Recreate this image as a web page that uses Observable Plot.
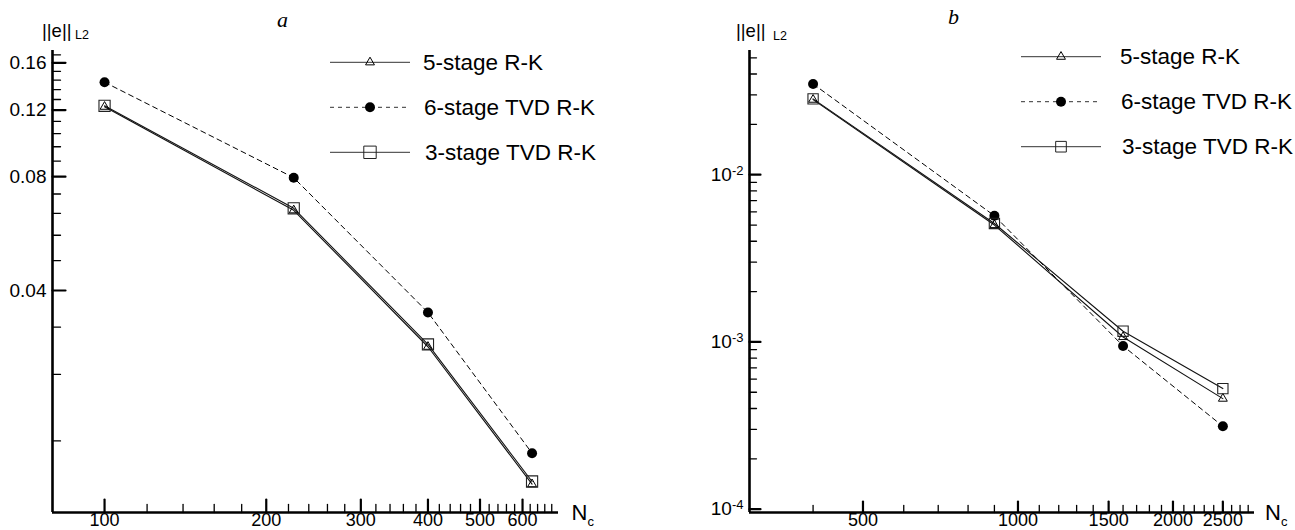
<!DOCTYPE html>
<html><head><meta charset="utf-8">
<script src="https://cdn.jsdelivr.net/npm/d3@7"></script>
<script src="https://cdn.jsdelivr.net/npm/@observablehq/plot@0.6"></script>
<style>
html,body{margin:0;padding:0;background:#fff;}
#wrap{position:relative;width:1295px;height:530px;overflow:hidden;font-family:"Liberation Sans",Arial,sans-serif;}
#wrap svg{position:absolute;top:0;}
</style></head><body><div id="wrap"></div>
<script>
// ---- data ----
const seriesNames = ["5-stage R-K", "6-stage TVD R-K", "3-stage TVD R-K"];
// panel a
const ncA   = [100, 225, 400, 625];
const rk5A  = [0.1225, 0.0652, 0.0284, 0.0123];
const tvd6A = [0.1422, 0.0795, 0.0350, 0.01485];
const tvd3A = [0.1232, 0.0660, 0.0288, 0.0125];
// panel b
const ncB   = [400, 900, 1600, 2500];
const rk5B  = [0.0281, 0.0050, 0.00107, 0.000458];
const tvd6B = [0.0349, 0.00568, 0.000946, 0.000313];
const tvd3B = [0.0284, 0.00511, 0.001159, 0.000526];
// ticks
const xTicksA = [100, 200, 300, 400, 500, 600];
const xMinorA = [120,140,160,180,220,240,260,280,320,340,360,380,420,440,460,480,520,540,560,580,620,640,660,680];
const yTicksA = [0.04, 0.08, 0.12, 0.16];
const yMinorA = [0.016,0.024,0.032,0.048,0.056,0.064,0.072,0.088,0.096,0.104,0.112,0.128,0.136,0.144,0.152,0.168];
const xTicksB = [500, 1000, 1500, 2000, 2500];
const xMinorB = [400,600,700,800,900,1100,1200,1300,1400,1600,1700,1800,1900,2100,2200,2300,2400,2600,2700,2800];
const yTicksB = [0.0001, 0.001, 0.01];
const yTickExpB = ["-4", "-3", "-2"];
const yMinorB = [2e-4,3e-4,4e-4,5e-4,6e-4,7e-4,8e-4,9e-4,2e-3,3e-3,4e-3,5e-3,6e-3,7e-3,8e-3,9e-3,2e-2,3e-2,4e-2,5e-2];
const xDomainA = [80, 700],   yDomainA = [0.01035, 0.1725];
const xDomainB = [301, 2880], yDomainB = [0.0000955, 0.0553];

const rows = (nc, vals) => nc.map((n, i) => ({nc: n, v: vals[i]}));
const tickShape = {draw(ctx, l) { ctx.moveTo(0, 0); ctx.lineTo(0, -l); }};
const FONT = '"Liberation Sans", Arial, sans-serif';

function panel(cfg) {
  const s5 = rows(cfg.nc, cfg.rk5), s6 = rows(cfg.nc, cfg.tvd6), s3 = rows(cfg.nc, cfg.tvd3);
  return Plot.plot({
    width: cfg.width, height: 530,
    marginLeft: cfg.ml, marginRight: cfg.mr, marginTop: 50, marginBottom: 18,
    x: {type: "log", domain: cfg.xDomain},
    y: {type: "log", domain: cfg.yDomain},
    style: {fontFamily: FONT, fontSize: "19px", color: "#000", background: "transparent", overflow: "visible"},
    marks: [
      Plot.vector(cfg.xMinor, {x: d => d, frameAnchor: "bottom", length: cfg.minLen, rotate: 0, anchor: "start", shape: tickShape, stroke: "#000", strokeWidth: 1.3}),
      Plot.vector(cfg.xMajor, {x: d => d, frameAnchor: "bottom", length: cfg.majLen, rotate: 0, anchor: "start", shape: tickShape, stroke: "#000", strokeWidth: 2.2}),
      Plot.vector(cfg.yMinor, {y: d => d, frameAnchor: "left", length: cfg.minLen, rotate: 90, anchor: "start", shape: tickShape, stroke: "#000", strokeWidth: 1.3}),
      Plot.vector(cfg.yMajor, {y: d => d, frameAnchor: "left", length: cfg.majLen, rotate: 90, anchor: "start", shape: tickShape, stroke: "#000", strokeWidth: 2.2}),
      Plot.ruleX([cfg.xDomain[0]], {stroke: "#000", strokeWidth: 2.6}),
      Plot.ruleY([cfg.yDomain[0]], {stroke: "#000", strokeWidth: 2.6}),
      Plot.axisX({ticks: cfg.xMajor, tickSize: 0, tickPadding: 1, tickFormat: d => String(d), label: null, fontSize: 18}),
      Plot.axisY({ticks: cfg.yMajor, tickSize: 0, tickPadding: 6, tickFormat: cfg.yFormat, label: null, fontSize: 19}),
      Plot.line(s6, {x: "nc", y: "v", stroke: "#000", strokeWidth: 1, strokeDasharray: "5,4"}),
      Plot.line(s5, {x: "nc", y: "v", stroke: "#111", strokeWidth: 1.1}),
      Plot.line(s3, {x: "nc", y: "v", stroke: "#111", strokeWidth: 1.1}),
      Plot.dot(s6, {x: "nc", y: "v", symbol: "circle", r: 5, fill: "#000", stroke: "none"}),
      Plot.dot(s5, {x: "nc", y: "v", symbol: "triangle", r: 3.3, fill: "none", stroke: "#000", strokeWidth: 1}),
      Plot.dot(s3, {x: "nc", y: "v", symbol: "square", r: cfg.sqR, fill: "none", stroke: "#222", strokeWidth: 1.1})
    ]
  });
}

const wrap = document.getElementById("wrap");
const pa = panel({width: 640, ml: 52, mr: 82, nc: ncA, rk5: rk5A, tvd6: tvd6A, tvd3: tvd3A,
  xDomain: xDomainA, yDomain: yDomainA, xMajor: xTicksA, xMinor: xMinorA, yMajor: yTicksA, yMinor: yMinorA,
  yFormat: d => d.toFixed(2), majLen: 13, minLen: 8, sqR: 6.3});
pa.style.left = "0px";
wrap.appendChild(pa);
const pb = panel({width: 648, ml: 102, mr: 41, nc: ncB, rk5: rk5B, tvd6: tvd6B, tvd3: tvd3B,
  xDomain: xDomainB, yDomain: yDomainB, xMajor: xTicksB, xMinor: xMinorB, yMajor: yTicksB, yMinor: yMinorB,
  yFormat: d => "10^" + yTickExpB[yTicksB.indexOf(d)], majLen: 11, minLen: 7, sqR: 5.8});
pb.style.left = "647px";
wrap.appendChild(pb);

// render the power-of-ten labels with a real superscript
d3.select(pb).selectAll('g[aria-label="y-axis tick label"] text').each(function() {
  const t = d3.select(this), s = t.text();
  if (!s.startsWith("10^")) return;
  const exp = s.slice(3);
  t.text("10");
  t.append("tspan").attr("dy", "-0.45em").attr("font-size", 13).text(exp);
});

// ---- overlay: axis titles, panel letters, legends ----
const ov = d3.select(wrap).append("svg").attr("width", 1295).attr("height", 530)
  .style("left", "0px").style("pointer-events", "none");

function ylab(x, y, subx, suby) {
  ov.append("text").attr("x", x).attr("y", y).attr("font-family", FONT).attr("font-size", 18.5).text("||e||");
  ov.append("text").attr("x", subx).attr("y", suby).attr("font-family", FONT).attr("font-size", 12.5).text("L2");
}
ylab(42, 36.5, 75, 38.5);
ylab(736, 37, 773, 40);

function nc(x, y) {
  ov.append("text").attr("x", x).attr("y", y).attr("font-family", FONT).attr("font-size", 22).text("N");
  ov.append("text").attr("x", x + 16).attr("y", y + 5.5).attr("font-family", FONT).attr("font-size", 13).text("c");
}
nc(571.5, 520);
nc(1265, 520);

ov.append("text").attr("x", 277).attr("y", 27).attr("font-family", '"Liberation Serif", serif')
  .attr("font-style", "italic").attr("font-size", 22).text("a");
ov.append("text").attr("x", 948).attr("y", 24).attr("font-family", '"Liberation Serif", serif')
  .attr("font-style", "italic").attr("font-size", 22).text("b");

function legend(x0, x1, tx, ys, sq) {
  const mx = (x0 + x1) / 2;
  const styles = [
    {dash: null, sym: d3.symbolTriangle, size: Math.PI * 3.3 * 3.3, fill: "none", stroke: "#000"},
    {dash: "4,4", sym: d3.symbolCircle, size: Math.PI * 5 * 5, fill: "#000", stroke: "none"},
    {dash: null, sym: d3.symbolSquare, size: Math.PI * sq * sq, fill: "none", stroke: "#222"}
  ];
  seriesNames.forEach((name, i) => {
    const y = ys[i], st = styles[i];
    ov.append("line").attr("x1", x0).attr("x2", x1).attr("y1", y).attr("y2", y)
      .attr("stroke", "#333").attr("stroke-width", 1).attr("stroke-dasharray", st.dash);
    ov.append("path").attr("transform", `translate(${mx},${y})`)
      .attr("d", d3.symbol(st.sym, st.size)()).attr("fill", st.fill).attr("stroke", st.stroke);
    ov.append("text").attr("x", tx + i).attr("y", y + 7.5).attr("font-family", FONT).attr("font-size", 22.5).text(name);
  });
}
legend(330, 410, 423, [62.3, 107.3, 152.3], 7.0);
legend(1021, 1101, 1120, [56.7, 101.7, 146.7], 6.0);
</script></body></html>
